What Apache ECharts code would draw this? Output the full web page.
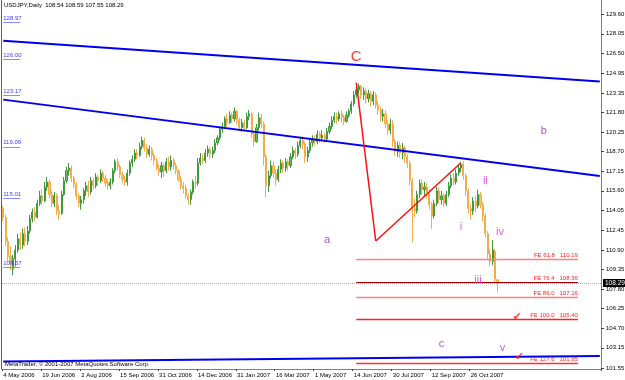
<!DOCTYPE html>
<html>
<head>
<meta charset="utf-8">
<script src="https://cdn.jsdelivr.net/npm/echarts@6/dist/echarts.min.js"></script>
<style>
html,body{margin:0;padding:0;background:#fff}
#chart{width:625px;height:380px}
</style>
</head>
<body>
<div id="chart"></div>
<script>
// one candle = two daily sessions, [open, close, low, high]
var candles = [
  [114.2,113.5,113.2,114.4],[113.5,111.6,111.2,113.7],[111.6,110.4,110.0,111.9],[110.4,109.8,109.3,111.2],
  [109.4,110.2,108.9,110.5],[110.2,110.9,109.6,111.3],[110.9,111.8,110.7,112.2],[111.8,111.3,110.9,112.3],
  [111.3,112.2,111.0,112.6],[112.2,111.6,111.2,112.7],[111.6,112.4,111.3,112.8],[112.4,113.4,112.2,113.7],
  [113.4,113.9,113.1,114.2],[113.9,113.5,113.2,114.3],[113.5,114.6,113.4,114.9],[114.6,115.2,114.4,115.6],
  [115.2,114.8,114.5,115.7],[114.8,115.9,114.7,116.3],[115.9,116.3,115.6,116.7],[116.3,115.3,115.0,116.5],
  [115.3,114.6,114.3,115.6],[114.6,115.2,114.3,115.5],[115.2,114.0,113.7,115.4],[114.0,113.8,113.3,114.5],
  [113.8,115.3,113.7,115.6],[115.3,116.4,115.2,116.7],[116.4,117.2,116.2,117.5],[117.2,117.4,116.8,117.8],
  [117.4,116.6,116.3,117.6],[116.6,116.1,115.8,116.8],[116.1,115.2,114.9,116.3],[115.2,114.6,114.3,115.4],
  [114.6,114.9,114.1,115.2],[114.9,115.6,114.6,115.8],[115.6,116.0,115.2,116.3],[116.0,115.5,115.1,116.4],
  [115.5,116.4,115.3,116.7],[116.4,116.0,115.7,116.6],[116.0,116.7,115.8,117.0],[116.7,116.4,116.0,116.9],
  [116.4,117.0,116.2,117.3],[117.0,116.6,116.3,117.2],[116.6,116.2,115.9,116.9],[116.2,116.0,115.7,116.5],
  [116.0,116.3,115.7,116.6],[116.3,117.2,116.1,117.4],[117.2,117.9,117.0,118.1],[117.9,117.5,117.2,118.2],
  [117.5,116.9,116.6,117.7],[116.9,116.5,116.2,117.1],[116.5,116.3,116.0,116.8],[116.3,117.0,116.0,117.3],
  [117.0,117.8,116.8,118.0],[117.8,118.1,117.5,118.4],[118.1,118.6,117.9,118.9],[118.6,118.4,118.1,118.9],
  [118.4,119.1,118.3,119.4],[119.1,119.6,118.9,119.9],[119.6,119.0,118.7,119.8],[119.0,118.5,118.2,119.3],
  [118.5,118.9,118.3,119.2],[118.9,118.4,118.0,119.1],[118.4,118.0,117.6,118.6],[118.0,117.4,117.2,118.2],
  [117.4,117.1,116.8,117.7],[117.1,117.6,116.6,117.9],[117.6,117.2,116.7,117.8],[117.2,117.9,117.0,118.2],
  [117.9,117.5,117.2,118.3],[117.5,118.0,117.2,118.4],[118.0,117.6,117.3,118.2],[117.6,117.2,116.9,117.8],
  [117.2,116.5,116.3,117.3],[116.5,116.0,115.7,116.8],[116.0,115.8,115.4,116.3],[115.8,115.2,115.0,116.1],
  [115.2,114.9,114.5,115.4],[114.9,115.5,114.5,115.7],[115.5,116.3,115.3,116.5],[116.3,116.2,115.8,116.8],
  [116.2,117.8,116.0,118.2],[117.8,118.2,117.6,118.6],[118.2,118.0,117.7,118.5],[118.0,118.6,117.8,118.9],
  [118.6,118.9,118.3,119.2],[118.9,118.5,118.1,119.1],[118.5,118.8,118.2,119.1],[118.8,119.4,118.6,119.7],
  [119.4,119.8,119.2,120.0],[119.8,120.5,119.6,120.7],[120.5,120.7,120.2,121.0],[120.7,121.3,120.5,121.5],
  [121.3,121.0,120.7,121.7],[121.0,121.6,120.9,121.9],[121.6,121.3,121.0,121.8],[121.3,121.9,121.1,122.2],
  [121.9,121.2,120.9,122.0],[121.2,120.6,120.4,121.4],[120.6,121.0,120.3,121.3],[121.0,120.6,120.3,121.2],
  [120.6,121.5,120.5,121.8],[121.5,121.7,121.2,122.0],[121.7,120.1,119.8,121.8],[120.1,119.5,119.1,120.3],
  [119.5,120.6,119.4,120.9],[120.6,121.4,120.4,121.8],[121.4,120.9,120.6,121.7],[120.9,118.3,117.6,121.1],
  [118.3,116.0,115.1,118.5],[116.0,116.8,115.5,117.2],[116.8,117.6,116.6,118.0],[117.6,117.0,116.6,117.9],
  [117.0,116.5,116.0,117.3],[116.5,117.3,116.3,117.6],[117.3,117.8,117.0,118.1],[117.8,117.4,117.0,118.0],
  [117.4,117.9,117.1,118.2],[117.9,117.6,117.2,118.1],[117.6,118.3,117.4,118.6],[118.3,118.8,118.1,119.1],
  [118.8,118.5,118.1,119.0],[118.5,119.2,118.3,119.5],[119.2,119.6,119.0,119.9],[119.6,119.3,118.9,119.9],
  [119.3,118.3,117.8,119.5],[118.3,118.8,117.9,119.1],[118.8,119.4,118.6,119.7],[119.4,119.7,119.1,120.0],
  [119.7,119.5,119.2,120.0],[119.5,120.1,119.3,120.4],[120.1,119.8,119.4,120.3],[119.8,120.0,119.5,120.4],
  [120.0,119.7,119.4,120.2],[119.7,120.3,119.6,120.6],[120.3,120.7,120.1,121.0],[120.7,121.2,120.5,121.5],
  [121.2,121.5,121.0,121.8],[121.5,121.3,120.9,121.8],[121.3,121.7,121.1,121.9],[121.7,121.4,121.0,122.0],
  [121.4,121.1,120.8,121.6],[121.1,121.6,121.0,121.9],[121.6,121.9,121.4,122.1],[121.9,122.5,121.7,122.7],
  [122.5,123.2,122.3,123.5],[123.2,123.6,123.0,124.0],[123.6,123.9,123.3,124.1],[123.9,123.2,122.9,124.0],
  [123.2,123.5,122.8,123.8],[123.5,122.9,122.5,123.7],[122.9,123.3,122.6,123.6],[123.3,122.7,122.3,123.5],
  [122.7,123.2,122.4,123.5],[123.2,122.4,122.1,123.4],[122.4,122.0,121.6,122.7],[122.0,121.5,121.1,122.3],
  [121.5,121.7,121.1,122.1],[121.7,120.9,120.6,122.0],[120.9,120.4,120.0,121.2],[120.4,120.9,120.1,121.3],
  [120.9,119.5,119.1,121.2],[119.5,118.7,118.4,119.7],[118.7,119.2,118.3,119.5],[119.2,118.6,118.2,119.5],
  [118.6,119.0,118.1,119.4],[119.0,118.3,117.8,119.2],[118.3,117.8,117.4,118.5],[117.8,116.4,116.0,118.0],
  [116.4,114.2,111.5,116.6],[114.2,114.0,113.5,115.0],[114.0,115.3,113.8,115.6],[115.3,116.2,115.0,116.5],
  [116.2,115.7,115.3,116.5],[115.7,115.9,115.2,116.3],[115.9,115.4,115.0,116.2],[115.4,114.5,114.1,115.7],
  [114.5,113.6,112.6,114.7],[113.6,114.6,113.4,114.9],[114.6,115.6,114.4,115.9],[115.6,114.9,114.6,115.9],
  [114.9,115.2,114.5,115.6],[115.2,114.6,114.3,115.4],[114.6,115.3,114.4,115.6],[115.3,116.0,115.1,116.3],
  [116.0,116.6,115.8,116.9],[116.6,116.3,116.0,117.0],[116.3,117.0,116.1,117.3],[117.0,117.4,116.8,117.7],
  [117.4,117.7,117.1,117.9],[117.7,116.8,116.5,117.95],[116.8,115.6,115.2,117.0],[115.6,114.2,113.8,115.8],
  [114.2,114.0,113.3,114.6],[114.0,114.8,113.7,115.1],[114.8,114.4,113.9,115.2],[114.4,115.3,114.2,115.7],
  [115.3,114.5,114.2,115.5],[114.5,113.6,113.2,114.7],[113.6,112.2,111.9,113.8],[112.2,110.6,110.2,112.4],
  [110.6,110.0,109.6,111.0],[110.0,110.9,109.7,111.7],[110.8,108.6,108.4,111.0],[108.54,108.29,107.55,108.59]
];
var lastBar = [108.54, 108.59, 107.55, 108.29];   // O H L C of the last daily bar
var bidPrice = 108.29;

var tickLabels = ['4 May 2006','19 Jun 2006','2 Aug 2006','15 Sep 2006','31 Oct 2006','14 Dec 2006',
  '31 Jan 2007','16 Mar 2007','1 May 2007','14 Jun 2007','30 Jul 2007','12 Sep 2007','26 Oct 2007'];
var priceTicks = [129.60,128.05,126.50,124.95,123.35,121.80,120.25,118.70,117.15,115.60,114.05,
  112.45,110.90,109.35,107.80,106.25,104.70,103.15,101.55];

// drawn objects, in [bar index, price]
var trendLines = [
  [[0,127.50],[245,124.27]],
  [[0,122.83],[245,116.77]],
  [[0,102.07],[245,102.50]]
];
var wavePoints = [[145,124.18],[153,111.62],[188,117.83]];
var feLevels = [['FE 61.8',110.19],['FE 76.4',108.36],['FE 86.0',107.16],['FE 100.0',105.40],['FE 127.6',101.95]];
var feSpan = [145, 236];
var levelTags = [128.97, 126.00, 123.17, 119.09, 115.01, 109.57];
var waveLabels = [['C',145,126.21],['a',133,111.70],['b',222,120.35],['c',180,103.45],
  ['i',188,112.76],['ii',198,116.40],['iii',195,108.53],['iv',204,112.36],['v',205,103.14]];
var checkMarks = [[211,105.60],[212,102.42]];

var slotCount = 246;
var labelStep = 16;
var cats = [];
for (var i = 0; i < slotCount; i++) cats.push(String(i));

function isTick(idx){ return idx % labelStep === 0 && idx / labelStep < tickLabels.length; }

var font = 'Liberation Sans';
var labelStyle = {
  'C': {color:'#ee1111', size:15},
  'a': {color:'#9226d0', size:11}, 'b': {color:'#9226d0', size:11}, 'c': {color:'#9226d0', size:11},
  'i': {color:'#dd30dd', size:11}, 'ii': {color:'#dd30dd', size:11}, 'iii': {color:'#dd30dd', size:11},
  'iv': {color:'#dd30dd', size:11}, 'v': {color:'#b030e0', size:11}
};

var feColors = ['#ff8080','#a00000','#ff8080','#ff2020','#ff3030'];

var chart = echarts.init(document.getElementById('chart'));
chart.setOption({
  animation: false,
  backgroundColor: '#fff',
  textStyle: {fontFamily: font},
  grid: {left: 2, right: 24, top: 0, bottom: 11, outerBoundsMode: 'none', containLabel: false},
  xAxis: {
    type: 'category',
    data: cats,
    boundaryGap: true,
    axisLine: {show: true, lineStyle: {color: '#808080', width: 1}},
    axisTick: {show: true, interval: function(i){ return isTick(i); }, length: 2, lineStyle: {color: '#404040'}},
    axisLabel: {
      interval: function(i){ return isTick(i); },
      formatter: function(v, i){ return tickLabels[i / labelStep]; },
      fontSize: 6, color: '#000', margin: 3, align: 'left', fontFamily: font
    },
    splitLine: {show: false}
  },
  yAxis: {
    type: 'value',
    position: 'right',
    min: 101.47,
    max: 130.73,
    scale: true,
    axisLine: {show: true, lineStyle: {color: '#808080', width: 1}},
    axisTick: {show: true, customValues: priceTicks, length: 3, lineStyle: {color: '#404040'}},
    axisLabel: {
      customValues: priceTicks,
      formatter: function(v){ return v.toFixed(2); },
      fontSize: 6, color: '#000', margin: 5, fontFamily: font
    },
    splitLine: {show: false}
  },
  graphic: [
    {type: 'line', shape: {x1: 1.5, y1: 0, x2: 1.5, y2: 369}, style: {stroke: '#606060', lineWidth: 1}, silent: true},
    {type: 'text', left: 4, top: 2, silent: true,
      style: {text: 'USDJPY,Daily  ' + lastBar.map(function(v){ return v.toFixed(2); }).join(' '),
        fill: '#000', font: '6px "' + font + '"'}},
    {type: 'text', left: 5, top: 361, silent: true, z: 50,
      style: {text: 'MetaTrader, \u00a9 2001-2007 MetaQuotes Software Corp.', fill: '#000', font: '6px "' + font + '"'}}
  ],
  series: [
    {
      name: 'USDJPY',
      type: 'candlestick',
      data: candles,
      barWidth: 1.6,
      itemStyle: {
        color: '#6cbb62', color0: '#fbc470',
        borderColor: '#3f9a3f', borderColor0: '#f3ac48', borderWidth: 1
      },
      z: 2
    },
    {
      name: 'trend',
      type: 'line',
      data: [],
      z: 3,
      markLine: {
        silent: true,
        symbol: ['none', 'none'],
        lineStyle: {color: '#0000ee', width: 2, type: 'solid'},
        label: {show: false},
        data: trendLines.map(function(l){ return [{coord: l[0]}, {coord: l[1]}]; })
      }
    },
    {
      name: 'wave',
      type: 'line',
      data: [],
      z: 3,
      markLine: {
        silent: true,
        symbol: ['none', 'none'],
        lineStyle: {color: '#ff1010', width: 1.5, type: 'solid'},
        label: {show: false},
        data: wavePoints.slice(1).map(function(p, k){ return [{coord: wavePoints[k]}, {coord: p}]; })
      }
    },
    {
      name: 'bid',
      type: 'line',
      data: [],
      clip: false,
      z: 3,
      markLine: {
        silent: true,
        symbol: ['none', 'none'],
        data: [{
          yAxis: bidPrice,
          lineStyle: {color: '#a8a8a8', width: 1, type: 'dotted'},
          label: {show: true, position: 'end', formatter: bidPrice.toFixed(2), distance: 2,
            backgroundColor: '#000', color: '#fff', fontSize: 6.5, padding: [1, 2, 0, 2], fontFamily: font}
        }]
      }
    },
    {
      name: 'fe',
      type: 'line',
      data: [],
      z: 4,
      markLine: {
        silent: true,
        symbol: ['none', 'none'],
        data: feLevels.map(function(f, k){
          return [{
            coord: [feSpan[0], f[1]],
            lineStyle: {color: feColors[k], width: k === 1 ? 1 : 1.3, type: 'solid'},
            label: {show: true, position: 'insideEndTop', formatter: f[0] + '   ' + f[1].toFixed(2),
              color: '#ff2020', fontSize: 6, distance: [0, 1], fontFamily: font}
          }, {coord: [feSpan[1], f[1]]}];
        })
      }
    },
    {
      name: 'tags',
      type: 'line',
      data: [],
      z: 4,
      markLine: {
        silent: true,
        symbol: ['none', 'none'],
        data: levelTags.map(function(v){
          return [{
            coord: [0, v],
            lineStyle: {color: '#8888ff', width: 1, type: 'solid'},
            label: {show: true, position: 'insideStartTop', formatter: v.toFixed(2),
              color: '#3c3cff', fontSize: 6, distance: [0, 1], fontFamily: font}
          }, {coord: [7, v]}];
        })
      }
    },
    {
      name: 'waves',
      type: 'scatter',
      symbolSize: 0,
      z: 5,
      silent: true,
      data: waveLabels.map(function(w){
        var st = labelStyle[w[0]];
        return {value: [w[1], w[2]], label: {show: true, position: 'inside', formatter: w[0],
          color: st.color, fontSize: st.size, fontFamily: 'Liberation Sans'}};
      })
    },
    {
      name: 'checks',
      type: 'scatter',
      symbolSize: 0,
      z: 5,
      silent: true,
      data: checkMarks.map(function(c){
        return {value: c, label: {show: true, position: 'inside', formatter: '\u2714',
          color: '#ff1a1a', fontSize: 11, fontFamily: 'DejaVu Sans'}};
      })
    }
  ]
});
</script>
</body>
</html>
